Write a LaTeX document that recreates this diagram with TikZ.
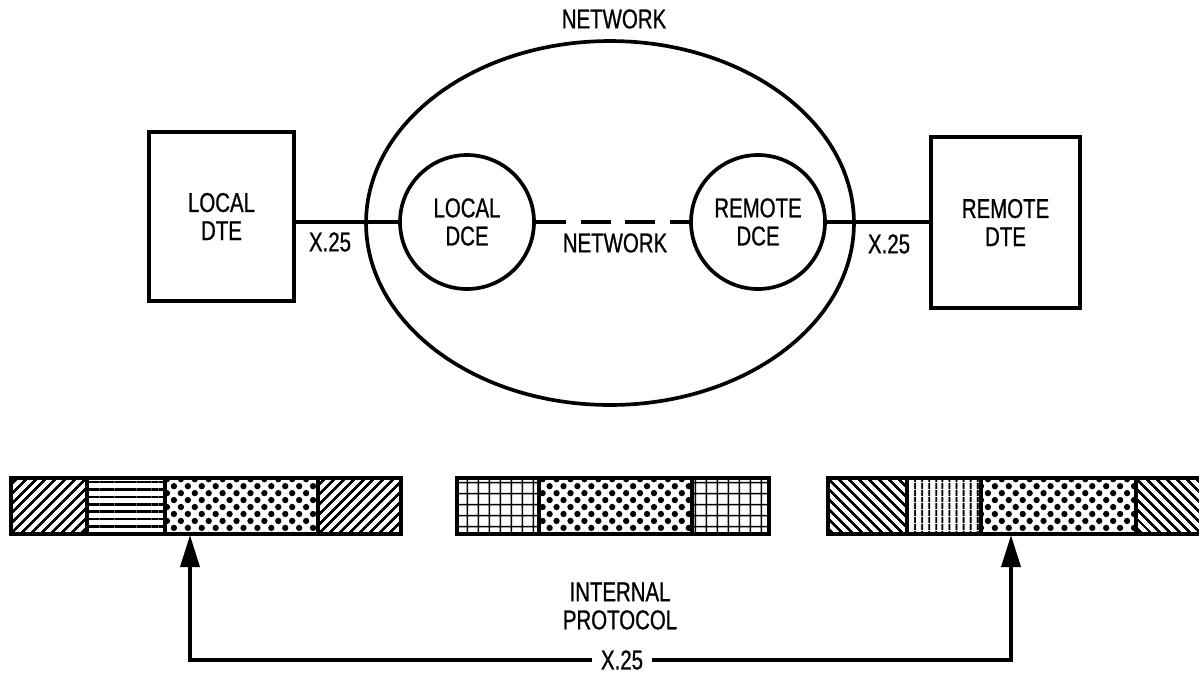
\documentclass[tikz,border=0pt]{standalone}
\usepackage{fontspec}
\setmainfont{Liberation Sans}[FakeStretch=0.75, FakeBold=0.8]
\usetikzlibrary{positioning,arrows.meta,shapes.geometric,patterns.meta}

\begin{document}
\begin{tikzpicture}[
  x=0.02cm, y=-0.02cm,
  font=\fontsize{15.5}{16}\selectfont,
  line width=2.1pt,
  dtebox/.style={draw, inner sep=0pt, align=center},
  dcebox/.style={draw, circle, minimum size=2.68cm, inner sep=0pt, align=center},
  netcloud/.style={draw, ellipse, minimum width=9.76cm, minimum height=7.28cm, inner sep=0pt},
  seg/.style={draw, line width=2.1pt, inner sep=0pt, outer sep=0pt, minimum height=1.12cm},
  barline/.style={line width=2.8pt},
  hne/.style={pattern={Lines[angle=45, distance=4pt, line width=1.5pt]}},
  hnw/.style={pattern={Lines[angle=-45, distance=4pt, line width=1.5pt]}},
  hhor/.style={pattern={Lines[angle=0, distance=4.2pt, line width=1.5pt]}},
  hver/.style={pattern={Lines[angle=90, distance=4pt, line width=1.4pt]}},
  hgrid/.style={pattern={Hatch[distance=6.5pt, line width=0.9pt]}},
  hdots/.style={pattern={Dots[distance=5.6pt, radius=1.8pt, angle=45]}},
  lab/.style={inner sep=1pt, align=center},
  arr/.style={-{Triangle[length=0.64cm, width=0.38cm]}, line width=2.1pt}
]
\useasboundingbox (0,0) rectangle (1199,674);
% ----- network with the two DCEs -----
\node[lab] (nettitle) at (614,19) {NETWORK};
\node[netcloud] (net) at (610,223) {};
\node[dcebox] (ldce) at (467,222) {LOCAL\\DCE};
\node[dcebox] (rdce) at (758,222) {REMOTE\\DCE};
\draw[dash pattern=on 17pt off 8.5pt] (ldce.east) -- (rdce.west);
\node[lab] (netlab) at (615,243) {NETWORK};
% ----- terminals on either side -----
\node[dtebox, minimum width=2.9cm, minimum height=3.38cm] (ldte) at (221.5,216.5) {LOCAL\\DTE};
\node[dtebox, minimum width=2.98cm, minimum height=3.42cm] (rdte) at (1005.5,222.5) {REMOTE\\DTE};
\draw (ldce.west) -- (ldce.west -| ldte.east);
\draw (rdce.east) -- (rdce.east -| rdte.west);
\node[lab] (lx) at (330,242) {X.25};
\node[lab] (rx) at (889,244) {X.25};
% ----- packet formats -----
\foreach \nm/\xa/\xb/\pat in {a1/11/87/hne, a2/87/165/hhor, a3/165/318/hdots, a4/318/401/hne,
                              b1/457/539/hgrid, b2/539/692/hdots, b3/692/769/hgrid,
                              c1/828/907/hnw, c2/907/981/hver, c3/981/1136/hdots, c4/1136/1215/hnw}
  \node[seg, \pat, minimum width={(\xb-\xa)*0.02cm}] (\nm) at ({(\xa+\xb)/2},506) {};
\draw[barline] (a1.north west) rectangle (a4.south east);
\draw[barline] (b1.north west) rectangle (b3.south east);
\draw[barline] (c1.north west) rectangle (c4.south east);
% ----- X.25 end to end -----
\node[lab] (intlab) at (620,606) {INTERNAL\\PROTOCOL};
\node[lab, inner sep=4pt] (xb) at (622,660) {X.25};
\coordinate (lhead) at (190,535);
\coordinate (rhead) at (1011,535);
\draw[arr] (xb.west) -| (lhead);
\draw[arr] (xb.east) -| (rhead);
\end{tikzpicture}
\end{document}
